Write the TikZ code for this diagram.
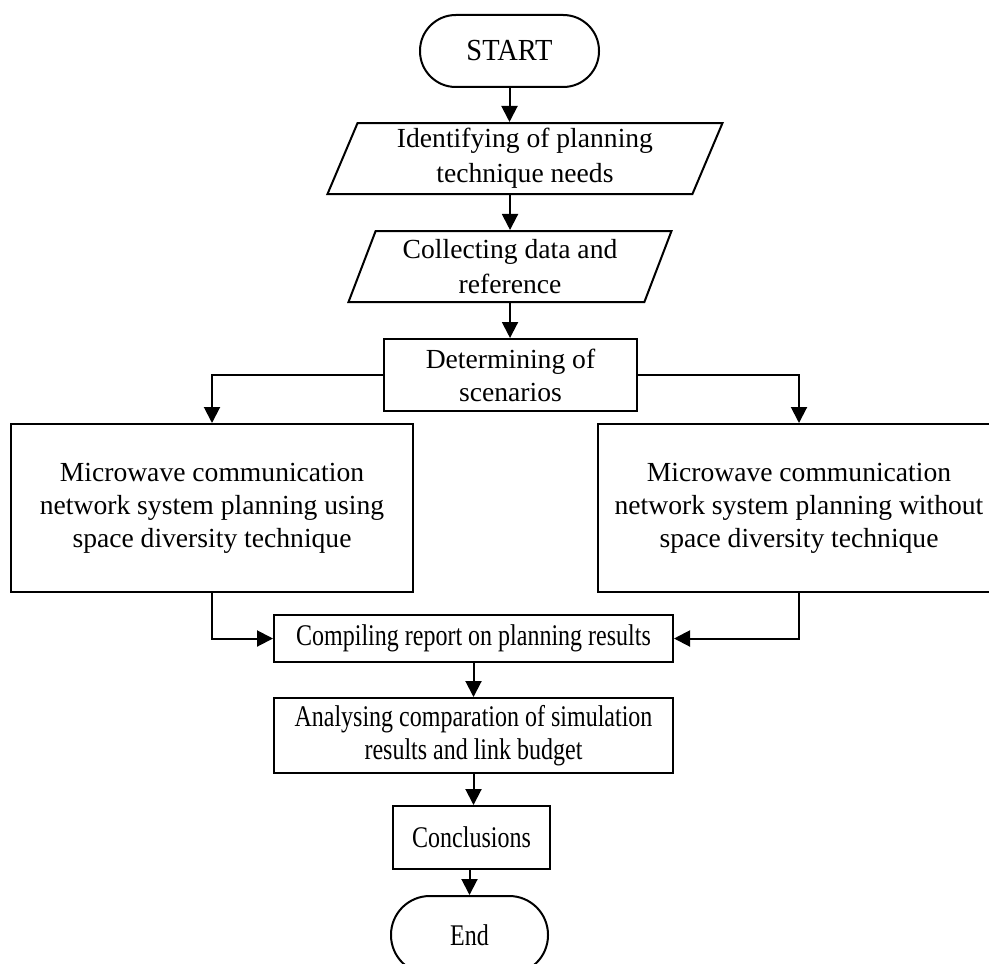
\documentclass[tikz,border=0pt]{standalone}
\usepackage{fontspec}
\setmainfont{Liberation Serif}
\newfontfamily\narrowserif{Liberation Serif}[FakeStretch=0.8]
\newfontfamily\startserif{Liberation Serif}[FakeStretch=0.93]
\usetikzlibrary{shapes.geometric,arrows.meta}

\begin{document}
\begin{tikzpicture}[x=0.5pt,y=-0.5pt]
        \tikzset{termbox/.style = {draw,line width=1pt,rounded corners=17.9pt,minimum width=89.5pt,minimum height=36pt,inner sep=0pt}}
        \tikzset{iobox/.style = {draw,line width=1pt,trapezium,trapezium left angle=63.5,trapezium right angle=116.5,trapezium stretches body,minimum height=35.5pt,inner sep=0pt,align=center,font=\fontsize{13.8}{17.5}\selectfont}}
        \tikzset{procbox/.style = {draw,line width=1pt,inner sep=0pt,align=center,font=\fontsize{13.8}{16.5}\selectfont}}
        \tikzset{lowbox/.style = {draw,line width=1pt,inner sep=0pt,align=center,font=\narrowserif\fontsize{15}{16.5}\selectfont}}
        \tikzset{flow/.style = {line width=1pt,-{Triangle[length=8pt,width=8pt]}}}

        \useasboundingbox (0,0) rectangle (989,963);

        \node[termbox,font=\startserif\fontsize{15.3}{16}\selectfont] (start) at (509.5,51) {START};
        \node[iobox,minimum width=197.5pt] (ident) at (525,158.5) {Identifying of planning\\technique needs};
        \node[iobox,minimum width=161.5pt] (collect) at (510,266.5) {Collecting data and\\reference};
        \node[procbox,minimum width=126.5pt,minimum height=36pt] (determ) at (510.5,375) {Determining of\\scenarios};

        \node[procbox,minimum width=201pt,minimum height=84pt] (usingsd) at (212,508) {Microwave communication\\network system planning using\\space diversity technique};
        \node[procbox,minimum width=201pt,minimum height=84pt] (withoutsd) at (799,508) {Microwave communication\\network system planning without\\space diversity technique};

        \node[lowbox,minimum width=199.5pt,minimum height=23.5pt] (compile) at (473.5,638.5) {Compiling report on planning results};
        \node[lowbox,minimum width=199.5pt,minimum height=37.5pt] (analyse) at (473.5,735.5) {Analysing comparation of simulation\\results and link budget};
        \node[lowbox,minimum width=78.5pt,minimum height=31.5pt] (concl) at (471.5,837.5) {Conclusions};
        \node[termbox,minimum width=78.5pt,minimum height=39pt,rounded corners=19.4pt,font=\narrowserif\fontsize{15}{16.5}\selectfont] (finish) at (469.5,935) {End};

        \draw[flow] (start) -- (start |- ident.north);
        \draw[flow] (collect.north |- ident.south) -- (collect.north);
        \draw[flow] (collect.south) -- (collect.south |- determ.north);
        \draw[flow] (determ.west) -| (usingsd.north);
        \draw[flow] (determ.east) -| (withoutsd.north);
        \draw[flow] (usingsd.south) |- (compile.west);
        \draw[flow] (withoutsd.south) |- (compile.east);
        \draw[flow] (compile) -- (analyse);
        \draw[flow] (analyse.south) -- (analyse.south |- concl.north);
        \draw[flow] (finish.north |- concl.south) -- (finish.north);
    \end{tikzpicture}
\end{document}
